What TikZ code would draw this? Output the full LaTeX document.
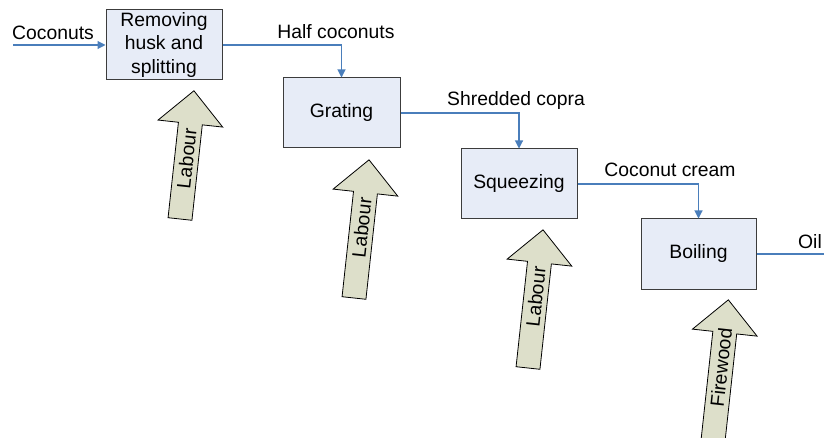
\documentclass[tikz,border=0pt]{standalone}
\usepackage{fontspec}
\setmainfont{Liberation Sans}
\usetikzlibrary{arrows.meta}
\definecolor{boxfill}{RGB}{231,236,247}
\definecolor{arrfill}{RGB}{221,223,202}
\definecolor{linkblue}{RGB}{74,126,187}
\definecolor{boxline}{RGB}{60,60,60}
\newcommand{\inarrow}[6]{%
  \begin{scope}[shift={(#2,#3)}, rotate=-6.2]
    \draw[inarr] (-12,0) -- (-12,-#4+33) -- (-32.5,-#4+33) -- (0,-#4) -- (32.5,-#4+33) -- (12,-#4+33) -- (12,0) -- cycle;
    \node[inlabel] (#1) at (0,-#6) {#5};
  \end{scope}}
\begin{document}
\begin{tikzpicture}[x=0.75pt, y=-0.75pt,
  every node/.style={font=\fontsize{14.5pt}{17.3pt}\selectfont},
  proc/.style={draw=boxline, line width=0.75pt, fill=boxfill, minimum width=87pt, minimum height=52.5pt, inner sep=0pt, align=center},
  flow/.style={draw=linkblue, line width=0.8pt, -{Triangle[length=6pt,width=6pt]}},
  plainflow/.style={draw=linkblue, line width=0.8pt},
  inarr/.style={draw=black, line width=0.6pt, fill=arrfill, line join=miter},
  inlabel/.style={rotate=83.8, inner sep=0pt},
  lbl/.style={inner sep=0pt}]
\useasboundingbox (0,0) rectangle (824,438);
\node[proc] (b1) at (164,45) {Removing\\husk and\\splitting};
\node[proc, minimum width=87.75pt] (b2) at (341.5,113) {Grating};
\node[proc] (b3) at (519,184) {Squeezing};
\node[proc, minimum width=86.25pt] (b4) at (698.5,254) {Boiling};
\coordinate (cin) at (13,45);
\coordinate (oilend) at (824,254);
\draw[flow] (cin) -- (b1.west);
\draw[flow] (b1.east) -| (b2.north);
\draw[flow] (b2.east) -| (b3.north);
\draw[flow] (b3.east) -| (b4.north);
\draw[plainflow] (b4.east) -- (oilend);
\node[lbl] (tcoco) at (53,33) {Coconuts};
\node[lbl] (thalf) at (336,32) {Half coconuts};
\node[lbl] (tshred) at (516,101) {Shredded copra};
\node[lbl] (tcream) at (670,170) {Coconut cream};
\node[lbl] (toil) at (810,242) {Oil};
\inarrow{lab1}{180}{219}{129}{Labour}{61}
\inarrow{lab2}{354}{298}{139}{Labour}{71}
\inarrow{lab3}{528}{368}{139}{Labour}{72}
\inarrow{fire}{713}{441}{142}{Firewood}{74}
\end{tikzpicture}
\end{document}
